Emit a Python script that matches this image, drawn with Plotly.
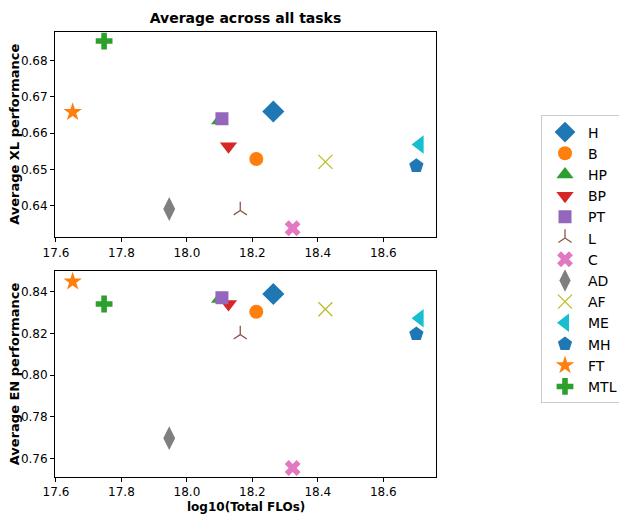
import plotly.graph_objects as go
from plotly.subplots import make_subplots

methods = ["H", "B", "HP", "BP", "PT", "L", "C", "AD", "AF", "ME", "MH", "FT", "MTL"]
log_flos = [18.264, 18.212, 18.100, 18.127, 18.107, 18.163, 18.323, 17.946, 18.423, 18.711, 18.701, 17.651, 17.747]
xl_perf = [0.6660, 0.6529, 0.6635, 0.6564, 0.6640, 0.6387, 0.6338, 0.6391, 0.6521, 0.6569, 0.6510, 0.6658, 0.6854]
en_perf = [0.8389, 0.8304, 0.8365, 0.8341, 0.8371, 0.8194, 0.7555, 0.7698, 0.8316, 0.8273, 0.8197, 0.8448, 0.8341]

symbols = ["diamond", "circle", "triangle-up", "triangle-down", "square", "y-up-open", "x",
           "diamond-tall", "x-thin-open", "triangle-left", "pentagon", "star", "cross"]
colors = ["#1f77b4", "#ff7f0e", "#2ca02c", "#d62728", "#9467bd", "#8c564b", "#e377c2",
          "#7f7f7f", "#bcbd22", "#17becf", "#1f77b4", "#ff7f0e", "#2ca02c"]
sizes = [17, 14, 15, 15, 13, 11, 14, 17, 14, 16, 15, 14, 14]

FONT = "DejaVu Sans"

fig = make_subplots(rows=2, cols=1, vertical_spacing=0.076)

for i, m in enumerate(methods):
    line_w = 1.3 if symbols[i].endswith("open") else 0
    for row, vals in ((1, xl_perf), (2, en_perf)):
        fig.add_trace(go.Scatter(
            x=[log_flos[i]], y=[vals[i]], mode="markers", name=m,
            legendgroup=m, showlegend=(row == 1),
            marker=dict(symbol=symbols[i], color=colors[i], size=sizes[i],
                        line=dict(width=line_w, color=colors[i])),
        ), row=row, col=1)

axis_common = dict(showline=True, linecolor="black", linewidth=1, mirror=True,
                   ticks="outside", ticklen=4, tickcolor="black", showgrid=False,
                   zeroline=False, automargin=False,
                   tickfont=dict(family=FONT, size=12, color="black"))

fig.update_xaxes(range=[17.597, 18.761], tickvals=[17.6, 17.8, 18.0, 18.2, 18.4, 18.6],
                 ticktext=["17.6", "17.8", "18.0", "18.2", "18.4", "18.6"], **axis_common)
fig.update_yaxes(range=[0.6313, 0.6879], tickvals=[0.64, 0.65, 0.66, 0.67, 0.68],
                 ticktext=["0.64", "0.65", "0.66", "0.67", "0.68"], row=1, col=1, **axis_common)
fig.update_yaxes(range=[0.7512, 0.8499], tickvals=[0.76, 0.78, 0.80, 0.82, 0.84],
                 ticktext=["0.76", "0.78", "0.80", "0.82", "0.84"], row=2, col=1, **axis_common)

title_font = dict(family=FONT, size=13, color="black")
fig.add_annotation(text="<b>Average XL performance</b>", textangle=-90, showarrow=False,
                   xref="paper", x=-0.107, xanchor="center", yref="y domain", y=0.5,
                   yanchor="middle", font=title_font)
fig.add_annotation(text="<b>Average EN performance</b>", textangle=-90, showarrow=False,
                   xref="paper", x=-0.107, xanchor="center", yref="y2 domain", y=0.5,
                   yanchor="middle", font=title_font)
fig.add_annotation(text="<b>log10(Total FLOs)</b>", showarrow=False,
                   xref="paper", x=0.5, xanchor="center", yref="paper", y=-0.0663,
                   yanchor="middle", font=dict(family=FONT, size=12, color="black"))

fig.update_layout(
    width=619, height=514,
    margin=dict(l=55, r=183, t=32, b=37, autoexpand=False),
    plot_bgcolor="white", paper_bgcolor="white",
    font=dict(family=FONT, size=12, color="black"),
    title=dict(text="<b>Average across all tasks</b>", x=0.5, xref="paper", xanchor="center",
               y=1 - 18 / 514, yref="container", yanchor="middle",
               font=dict(family=FONT, size=14, color="black")),
    legend=dict(x=1.2756, y=0.8125, xanchor="left", yanchor="top",
                bordercolor="#cccccc", borderwidth=1, bgcolor="white",
                font=dict(family=FONT, size=14, color="black"),
                tracegroupgap=0, itemsizing="trace", itemwidth=36),
)
fig.update_yaxes(domain=[0.5387, 1.0], row=1, col=1)
fig.update_yaxes(domain=[0.0, 0.4629], row=2, col=1)

fig.write_html("out.html", config={"displayModeBar": False},
               post_script="document.body.style.margin='0';document.body.style.overflow='hidden';")
